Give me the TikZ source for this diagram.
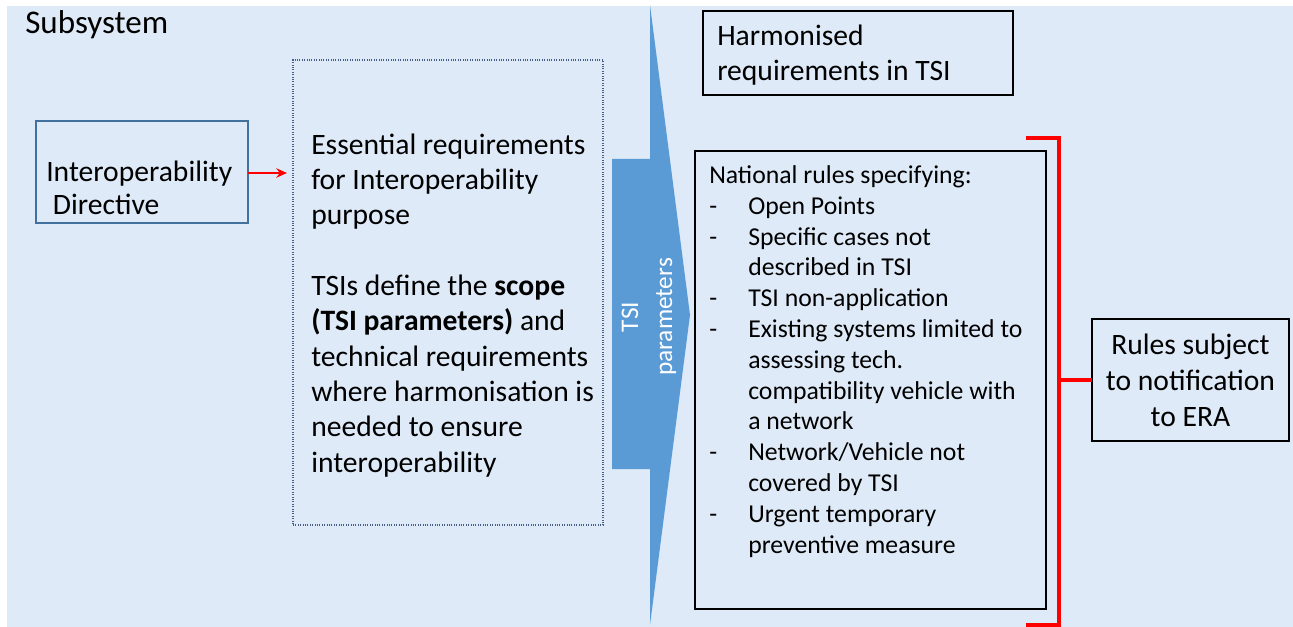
\documentclass[tikz,border=0pt]{standalone}
\usepackage{fontspec}
\setmainfont{Carlito}
\usetikzlibrary{arrows.meta}

\definecolor{bgblue}{RGB}{222,234,247}
\definecolor{arrowblue}{RGB}{91,155,213}
\definecolor{boxblue}{RGB}{65,113,156}
\definecolor{dotblue}{RGB}{70,95,135}

\tikzset{
	box/.style={draw, inner sep=0pt, outer sep=0pt},
	big/.style={font=\fontsize{22.2}{26.5}\selectfont, align=left, inner sep=0pt, anchor=base west},
	small/.style={font=\fontsize{19.3}{23.1}\selectfont, align=left, inner sep=0pt, anchor=base west},
	redline/.style={draw=red, line width=3.2pt}
}
\newcommand{\dashitem}{\makebox[29.25pt][l]{-}}
\newcommand{\hang}{\hspace*{29.25pt}}

\begin{document}
\begin{tikzpicture}[x=0.75pt, y=-0.75pt]
		\useasboundingbox (0,0) rectangle (1293,627);
		% Background
		\fill[bgblue] (7,6) rectangle (1293,627);
		\node[font=\fontsize{24.8}{28}\selectfont, inner sep=0pt, anchor=base west] (title) at (25,34) {Subsystem};
		
		% Boxes
		\node[box, draw=boxblue, line width=1pt, minimum width=159pt, minimum height=76.5pt] (directive) at (142,172) {};
		\node[box, draw=dotblue, densely dotted, line width=0.8pt, minimum width=232.5pt, minimum height=348.75pt] (essential) at (448,292.5) {};
		\node[box, line width=1.1pt, minimum width=232.5pt, minimum height=63pt] (harmon) at (858,53) {};
		\node[box, line width=1.1pt, minimum width=263.25pt, minimum height=343.5pt] (national) at (870.5,380) {};
		\node[box, line width=1.1pt, minimum width=147.75pt, minimum height=91.5pt] (notify) at (1190.5,380) {};
		
		% Big arrow
		\fill[arrowblue] (612,159) -- (650,159) -- (650,5) -- (690,315) -- (650,625) -- (650,469) -- (612,469) -- cycle;
		\node[rotate=90, text=white, align=center, inner sep=0pt, font=\fontsize{19}{25.5}\selectfont] (param) at (649,317) {TSI\\parameters};
		
		% Texts (base anchor sits on the last line)
		\node[big] (directive_txt) at (46,215) {Interoperability\\[-1.7pt]\hspace*{5pt}Directive};
		\node[big] (essential_txt) at (311,472) {Essential requirements\\for Interoperability\\purpose\\[26.5pt]TSIs define the \textbf{scope}\\\textbf{(TSI parameters)} and\\technical requirements\\where harmonisation is\\needed to ensure\\interoperability};
		\node[big] (harmon_txt) at (717,81) {Harmonised\\requirements in TSI};
		\node[small] (national_txt) at (709,553) {National rules specifying:\\
			\dashitem Open Points\\
			\dashitem Specific cases not\\
			\hang described in TSI\\
			\dashitem TSI non-application\\
			\dashitem Existing systems limited to\\
			\hang assessing tech.\\
			\hang compatibility vehicle with\\
			\hang a network\\
			\dashitem Network/Vehicle not\\
			\hang covered by TSI\\
			\dashitem Urgent temporary\\
			\hang preventive measure};
		\node[font=\fontsize{22.2}{27}\selectfont, align=center, inner sep=0pt] (notify_txt) at (notify.center) {Rules subject\\to notification\\to ERA};
		
		% Connectors
		\draw[red, line width=1.5pt, -{Stealth[length=8pt, width=7pt]}] (directive.east |- 0,173) -- ([xshift=-4.5pt]essential.west |- 0,173);
		\coordinate (br_top) at (1026,138);
		\coordinate (br_bot) at (1026,625);
		\coordinate (br_mid) at (1059,380);
		\draw[redline] (br_top) -| (br_mid) |- (br_bot);
		\draw[redline] (br_mid) -- (notify.west);
	\end{tikzpicture}
\end{document}
